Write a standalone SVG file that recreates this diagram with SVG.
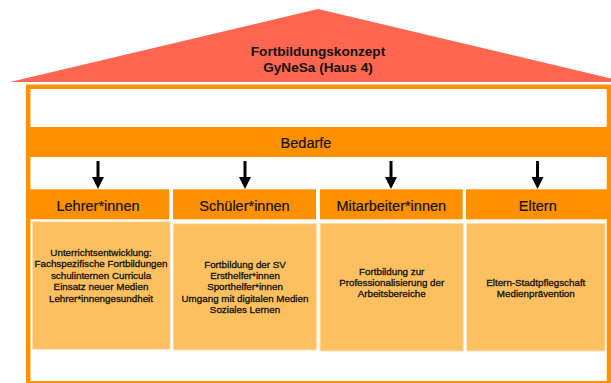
<svg xmlns="http://www.w3.org/2000/svg" width="611" height="383" viewBox="0 0 611 383">
<defs>
<style>
.t{font-family:"Liberation Sans",Arial,Helvetica,sans-serif;fill:#111;text-anchor:middle}
.title{font-size:13.6px;font-weight:bold}
.hd{font-size:14.5px;stroke:#111;stroke-width:0.2}
.ct{font-size:9.8px;stroke:#111;stroke-width:0.3}
.hbox{fill:#FF9100}
.cbox{fill:#FDC060;stroke:#FBE1B8;stroke-width:1}
</style>
<marker id="ah" markerWidth="4" markerHeight="4" refX="0" refY="2" orient="auto" markerUnits="strokeWidth"><path d="M0,0 L4,2 L0,4 Z" fill="#000"/></marker>
</defs>
<rect width="611" height="383" fill="#fff"/>
<g id="roof">
<polygon points="318,9 10,82 626,82" fill="#FE6650"/>
<text class="t title" x="318" y="56">Fortbildungskonzept</text>
<text class="t title" x="318" y="72">GyNeSa (Haus 4)</text>
</g>
<g id="frame">
<rect x="28.2" y="86.8" width="580.8" height="296.5" fill="#fff" stroke="#FF9100" stroke-width="4.5"/>
</g>
<g id="bedarfe">
<rect x="26" y="127" width="585" height="30" class="hbox"/>
<text class="t hd" x="306" y="147.5">Bedarfe</text>
</g>
<g id="connectors">
<line x1="98" y1="161" x2="98" y2="177" stroke="#000" stroke-width="3" marker-end="url(#ah)"/>
<line x1="245" y1="161" x2="245" y2="177" stroke="#000" stroke-width="3" marker-end="url(#ah)"/>
<line x1="391" y1="161" x2="391" y2="177" stroke="#000" stroke-width="3" marker-end="url(#ah)"/>
<line x1="537.5" y1="161" x2="537.5" y2="177" stroke="#000" stroke-width="3" marker-end="url(#ah)"/>
</g>
<g id="lehrer">
<rect x="30" y="189.3" width="139.3" height="30" class="hbox"/>
<text class="t hd" x="98" y="210.5">Lehrer*innen</text>
<rect x="32.3" y="221.7" width="137.7" height="127.6" class="cbox"/>
<text class="t ct" x="101" y="256">Unterrichtsentwicklung:</text>
<text class="t ct" x="101" y="267.4">Fachspezifische Fortbildungen</text>
<text class="t ct" x="101" y="278.8">schulinternen Curricula</text>
<text class="t ct" x="101" y="290.2">Einsatz neuer Medien</text>
<text class="t ct" x="101" y="301.6">Lehrer*innengesundheit</text>
</g>
<g id="schueler">
<rect x="173" y="189.3" width="143" height="30" class="hbox"/>
<text class="t hd" x="244.5" y="210.5">Schüler*innen</text>
<rect x="173.3" y="223.7" width="143.4" height="126.3" class="cbox"/>
<text class="t ct" x="245" y="267.5">Fortbildung der SV</text>
<text class="t ct" x="245" y="278.9">Ersthelfer*innen</text>
<text class="t ct" x="245" y="290.3">Sporthelfer*innen</text>
<text class="t ct" x="245" y="301.7">Umgang mit digitalen Medien</text>
<text class="t ct" x="245" y="313.1">Soziales Lernen</text>
</g>
<g id="mitarbeiter">
<rect x="320" y="189.3" width="142.7" height="30" class="hbox"/>
<text class="t hd" x="391.3" y="210.5">Mitarbeiter*innen</text>
<rect x="320" y="223.3" width="143.3" height="127.7" class="cbox"/>
<text class="t ct" x="391.7" y="274.5">Fortbildung zur</text>
<text class="t ct" x="391.7" y="285.7">Professionalisierung der</text>
<text class="t ct" x="391.7" y="296.9">Arbeitsbereiche</text>
</g>
<g id="eltern">
<rect x="466" y="189.3" width="145" height="30" class="hbox"/>
<text class="t hd" x="537.8" y="210.5">Eltern</text>
<rect x="466.7" y="223.3" width="138.3" height="127.7" class="cbox"/>
<text class="t ct" x="535.8" y="285.5">Eltern-Stadtpflegschaft</text>
<text class="t ct" x="535.8" y="296.7">Medienprävention</text>
</g>
</svg>
